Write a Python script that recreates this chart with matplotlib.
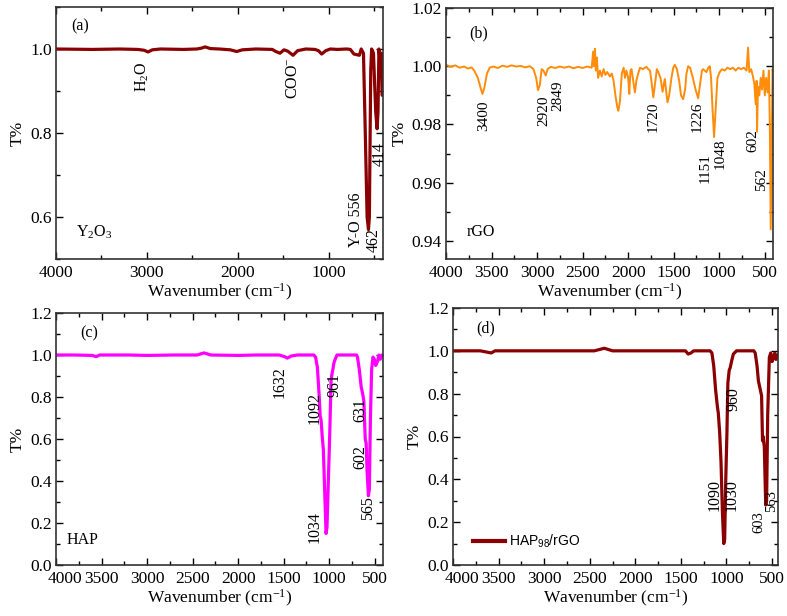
import matplotlib
matplotlib.use("Agg")
import matplotlib.pyplot as plt
import matplotlib.transforms as mtransforms
from matplotlib.ticker import MultipleLocator, FormatStrFormatter

plt.rcParams['font.family'] = ['Liberation Serif', 'DejaVu Serif']
plt.rcParams['mathtext.fontset'] = 'custom'
plt.rcParams['mathtext.rm'] = 'Liberation Serif'
plt.rcParams['mathtext.it'] = 'Liberation Serif:italic'

# (a) Y2O3
y2o3_wn = [4000, 3600, 3300, 3100, 3030, 2987, 2940, 2850, 2600, 2450, 2400, 2359, 2300,
           2200, 2080, 2011, 1950, 1800, 1620, 1580, 1534, 1490, 1450, 1390, 1340, 1250,
           1150, 1110, 1075, 1030, 980, 900, 800, 760, 720, 660, 640, 615, 595, 575, 560,
           550, 535, 525, 505, 480, 465, 455, 445, 430, 420, 410, 400]
y2o3_t = [1.0, 0.999, 1.0, 0.999, 0.997, 0.993, 0.998, 1.0, 0.999, 1.0, 1.002, 1.005, 1.001,
          1.0, 0.998, 0.994, 0.998, 1.0, 0.999, 0.994, 0.990, 0.998, 0.995, 0.985, 0.996, 1.0,
          0.999, 0.996, 0.988, 0.996, 1.0, 0.999, 1.0, 0.999, 0.988, 0.985, 1.0, 0.990, 0.80,
          0.60, 0.57, 0.60, 0.95, 1.0, 0.99, 0.85, 0.81, 0.85, 1.0, 0.97, 0.99, 0.89, 0.89]

# (b) rGO
rgo_wn = [4000, 3950, 3900, 3850, 3800, 3760, 3720, 3690, 3650, 3620, 3600, 3580, 3550, 3520,
          3480, 3430, 3380, 3330, 3280, 3230, 3180, 3130, 3080, 3040, 3010, 2990, 2970, 2950,
          2930, 2905, 2885, 2850, 2800, 2750, 2700, 2650, 2600, 2550, 2500, 2450, 2400, 2385,
          2375, 2365, 2355, 2345, 2330, 2310, 2290, 2270, 2250, 2230, 2200, 2180, 2160, 2140,
          2120, 2108, 2090, 2070, 2050, 2035, 2020, 2000, 1988, 1975, 1963, 1945, 1926, 1910,
          1890, 1870, 1840, 1800, 1780, 1760, 1745, 1724, 1705, 1685, 1670, 1645, 1622, 1605,
          1597, 1585, 1568, 1550, 1525, 1505, 1488, 1465, 1440, 1420, 1397, 1375, 1360, 1342,
          1320, 1290, 1260, 1232, 1210, 1190, 1177, 1160, 1141, 1120, 1104, 1090, 1075, 1057,
          1040, 1020, 995, 970, 940, 910, 880, 850, 820, 790, 760, 730, 700, 684, 670, 650,
          630, 615, 600, 590, 585, 575, 560, 545, 530, 515, 500, 485, 470, 455, 445, 435,
          425, 415, 410]
rgo_t = [1.0005, 0.9998, 1.0003, 0.9995, 0.9999, 0.9992, 0.9996, 0.9985, 0.9960, 0.9925,
         0.9905, 0.9925, 0.9975, 0.9995, 0.9999, 0.9994, 1.0002, 0.9998, 1.0003, 0.9999,
         1.0001, 0.9996, 1.0000, 0.9990, 0.9960, 0.9918, 0.9935, 0.9990, 0.9985, 0.9968,
         0.9990, 0.9998, 0.9994, 0.9999, 0.9995, 0.9999, 0.9993, 0.9998, 0.9994, 0.9999,
         0.9995, 1.0050, 1.0000, 1.0060, 0.9985, 1.0030, 0.9960, 0.9985, 0.9965, 0.9990,
         0.9970, 0.9980, 0.9965, 0.9975, 0.9950, 0.9900, 0.9860, 0.9847, 0.9880, 0.9975,
         0.9995, 0.9960, 0.9985, 0.9960, 0.9905, 0.9985, 0.9990, 0.9950, 0.9910, 0.9950,
         0.9975, 0.9995, 0.9990, 0.9998, 0.9990, 0.9985, 0.9950, 0.9893, 0.9940, 0.9990,
         0.9980, 0.9960, 0.9912, 0.9945, 0.9956, 0.9920, 0.9876, 0.9900, 0.9960, 0.9995,
         1.0005, 0.9990, 0.9950, 0.9900, 0.9887, 0.9920, 0.9975, 1.0000, 0.9995, 0.9960,
         0.9920, 0.9890, 0.9940, 0.9985, 0.9990, 0.9985, 0.9980, 0.9995, 1.0000, 0.9960,
         0.9860, 0.9757, 0.9850, 0.9960, 0.9980, 0.9990, 0.9985, 0.9995, 0.9990, 0.9995,
         0.9985, 0.9995, 0.9990, 0.9995, 0.9985, 1.0064, 0.9980, 0.9990, 0.9965, 0.9940,
         0.9870, 0.9950, 0.9775, 0.9930, 0.9900, 0.9960, 0.9920, 0.9985, 0.9900, 0.9960,
         0.9910, 0.9985, 0.9800, 0.9440, 0.9730, 0.9990, 0.9980]

# (c) HAP
hap_wn = [4000, 3800, 3600, 3560, 3520, 3200, 3000, 2700, 2450, 2375, 2300, 2000, 1800, 1550,
          1490, 1460, 1420, 1350, 1170, 1150, 1130, 1110, 1100, 1090, 1075, 1065, 1050, 1035,
          1025, 1010, 995, 980, 970, 961, 950, 935, 915, 800, 700, 690, 670, 650, 631, 620,
          605, 595, 585, 570, 560, 548, 535, 520, 505, 490, 470, 455, 440, 420, 410]
hap_t = [1.0, 1.0, 0.998, 0.992, 1.0, 1.0, 0.998, 1.0, 1.0, 1.01, 1.0, 0.998, 1.0, 1.0,
         0.992, 0.985, 0.995, 1.0, 1.0, 0.99, 0.94, 0.80, 0.71, 0.69, 0.60, 0.55, 0.35, 0.15,
         0.18, 0.40, 0.62, 0.88, 0.91, 0.93, 0.96, 0.98, 1.0, 1.0, 1.0, 0.99, 0.93, 0.85,
         0.81, 0.78, 0.60, 0.58, 0.45, 0.33, 0.36, 0.70, 0.93, 0.99, 0.98, 0.95, 0.97, 1.0,
         0.98, 1.0, 1.0]

# (d) HAP98/rGO
comp_wn = [4000, 3700, 3580, 3540, 3000, 2450, 2340, 2250, 1800, 1450, 1420, 1390, 1360,
           1180, 1160, 1140, 1120, 1100, 1090, 1075, 1060, 1045, 1030, 1020, 1008, 995, 985,
           970, 960, 945, 925, 890, 700, 685, 665, 650, 630, 615, 605, 598, 585, 570, 560,
           548, 530, 515, 500, 485, 470, 458, 445, 435]
comp_t = [1.0, 1.0, 0.99, 1.0, 1.0, 1.0, 1.012, 1.0, 1.0, 1.0, 0.985, 0.99, 1.0,
          1.0, 0.99, 0.93, 0.82, 0.74, 0.71, 0.62, 0.48, 0.25, 0.10, 0.12, 0.40, 0.62, 0.85,
          0.91, 0.92, 0.95, 0.985, 1.0, 1.0, 0.99, 0.93, 0.86, 0.82, 0.79, 0.58, 0.60, 0.55,
          0.28, 0.30, 0.70, 0.97, 0.99, 0.95, 0.97, 0.99, 0.96, 0.97, 0.98]

W, H = 787, 616
fig = plt.figure(figsize=(W / 100, H / 100), dpi=100)


def box(l, t, r, b):
    return [l / W, 1 - b / H, (r - l) / W, (b - t) / H]


ax_a = fig.add_axes(box(56, 7, 383, 259))
ax_b = fig.add_axes(box(446, 8, 773, 259))
ax_c = fig.add_axes(box(56, 313, 383, 565))
ax_d = fig.add_axes(box(453, 308, 778, 565))

FS = 12.5
AFS = 11.5


def style(ax, xlim, ylim, xmaj, xmin, ymaj, ymin, yfmt):
    ax.set_xlim(*xlim)
    ax.set_ylim(*ylim)
    ax.xaxis.set_major_locator(MultipleLocator(xmaj))
    ax.xaxis.set_minor_locator(MultipleLocator(xmin))
    ax.yaxis.set_major_locator(MultipleLocator(ymaj))
    ax.yaxis.set_minor_locator(MultipleLocator(ymin))
    ax.yaxis.set_major_formatter(FormatStrFormatter(yfmt))
    ax.tick_params(which='both', direction='in', top=True, right=True,
                   labelsize=FS, width=1.0, pad=3)
    ax.tick_params(axis='x', which='major', pad=4)
    ax.tick_params(which='major', length=5)
    ax.tick_params(which='minor', length=3)
    for s in ax.spines.values():
        s.set_linewidth(1.2)
        s.set_color('#333333')
    ax.set_xlabel('Wavenumber (cm$^{\\mathregular{-1}}$)', fontsize=FS, labelpad=1)
    ax.set_ylabel('T%', fontsize=FS, labelpad=3)


def tag(ax, wn, t, s, size=AFS):
    ax.text(wn, t, s, rotation=90, fontsize=size, ha='center', va='center')


# (a)
ax_a.plot(y2o3_wn, y2o3_t, color='#8B0000', lw=2.3)
style(ax_a, (4000, 400), (0.5, 1.1), 1000, 500, 0.2, 0.1, '%.1f')
ax_a.text(3730, 1.055, '(a)', fontsize=AFS, ha='center', va='center')
tag(ax_a, 3050, 0.934, 'H$_{\\mathregular{2}}$O')
tag(ax_a, 1390, 0.93, 'COO$^{\\mathregular{-}}$')
tag(ax_a, 700, 0.593, 'Y-O 556')
tag(ax_a, 505, 0.546, '462')
tag(ax_a, 440, 0.75, '414')
ax_a.text(3780, 0.563, 'Y$_{\\mathregular{2}}$O$_{\\mathregular{3}}$', fontsize=AFS, ha='left', va='center')

# (b)
ax_b.plot(rgo_wn, rgo_t, color='#FF8C0A', lw=1.4)
style(ax_b, (4000, 410), (0.9338, 1.02), 500, 250, 0.02, 0.01, '%.2f')
ax_b.text(3640, 1.0113, '(b)', fontsize=AFS, ha='center', va='center')
for wn, t, s in [(3590, 0.983, '3400'), (2921, 0.9847, '2920'), (2767, 0.9898, '2849'),
                 (1724, 0.9825, '1720'), (1247, 0.9825, '1226'), (1150, 0.9652, '1151'),
                 (990, 0.9698, '1048'), (632, 0.9746, '602'), (533, 0.961, '562')]:
    tag(ax_b, wn, t, s, 11)
ax_b.text(3773, 0.943, 'rGO', fontsize=AFS, ha='left', va='center')

# (c)
ax_c.plot(hap_wn, hap_t, color='#FF00FF', lw=2.3)
style(ax_c, (4000, 410), (0.0, 1.2), 500, 250, 0.2, 0.1, '%.1f')
ax_c.text(3640, 1.105, '(c)', fontsize=AFS, ha='center', va='center')
for wn, t, s in [(1540, 0.873, '1632'), (1156, 0.746, '1092'), (937, 0.857, '961'),
                 (662, 0.738, '631'), (662, 0.516, '602'), (571, 0.27, '565'),
                 (1156, 0.182, '1034')]:
    tag(ax_c, wn, t, s)
ax_c.text(3883, 0.119, 'HAP', fontsize=AFS, ha='left', va='center')

# (d)
ax_d.plot(comp_wn, comp_t, color='#8B0000', lw=2.3, label='HAP$_{\\mathregular{98}}$/rGO')
style(ax_d, (4000, 435), (0.0, 1.2), 500, 250, 0.2, 0.1, '%.1f')
ax_d.text(3640, 1.105, '(d)', fontsize=AFS, ha='center', va='center')
for wn, t, s in [(925, 0.775, '960'), (1126, 0.326, '1090'), (943, 0.326, '1030')]:
    tag(ax_d, wn, t, s)
tag(ax_d, 645, 0.20, '603', 10.5)
tag(ax_d, 505, 0.30, '563', 10.5)
leg = ax_d.legend(loc='center left', bbox_to_anchor=(0.062, 0.09), frameon=False,
                  prop={'family': 'Liberation Sans', 'size': 10}, handlelength=2.3,
                  handletextpad=0.3, borderaxespad=0, borderpad=0)
for line in leg.get_lines():
    line.set_linewidth(3)

# bottom row: the "4000" label sits a little right of the corner, as in the original
shift = mtransforms.ScaledTranslation(9 / 100, 0, fig.dpi_scale_trans)
fig.canvas.draw()
for ax in (ax_c, ax_d):
    for tick in ax.xaxis.get_major_ticks():
        if abs(tick.get_loc() - 4000) < 1:
            tick.label1.set_transform(tick.label1.get_transform() + shift)

fig.savefig('out.png', dpi=100)
